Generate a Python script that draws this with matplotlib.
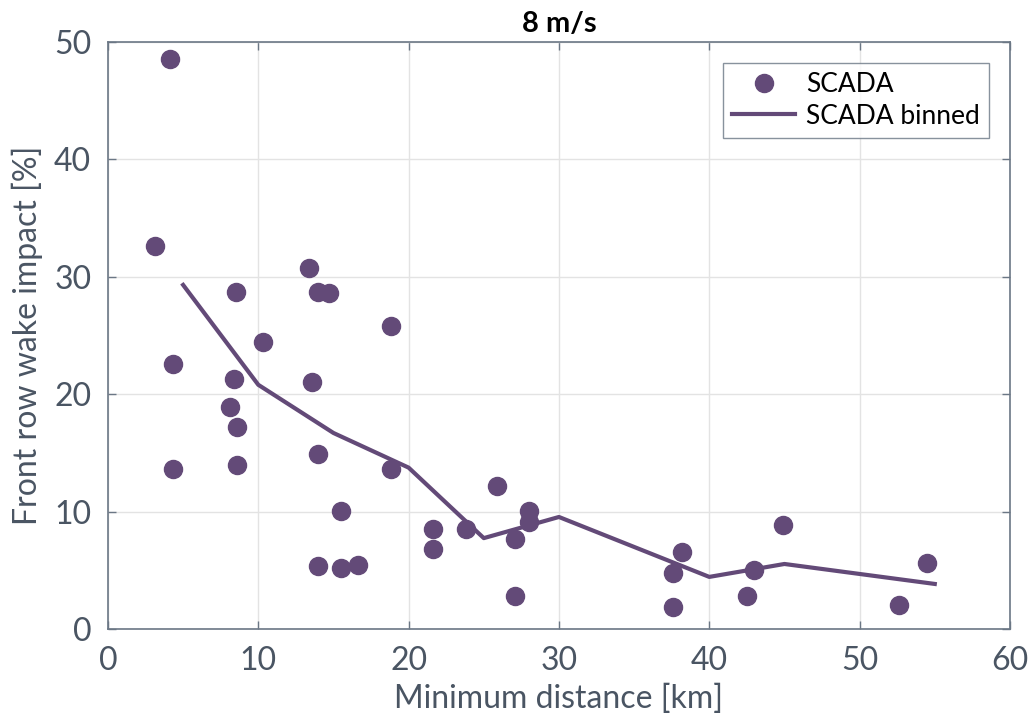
import numpy as np
import matplotlib
matplotlib.use('Agg')
import matplotlib.pyplot as plt

# scatter data (SCADA)
dist = [4.1, 3.1, 4.3, 4.3, 8.5, 8.4, 8.1, 8.6, 8.6, 10.3,
        13.4, 14.0, 14.7, 18.8, 13.6, 14.0, 18.8, 15.5, 14.0, 15.5,
        16.6, 21.6, 21.6, 23.8, 25.9, 28.0, 28.0, 27.1, 27.1,
        38.2, 37.6, 37.6, 43.0, 42.5, 44.9, 52.6, 54.5]
impact = [48.5, 32.6, 22.6, 13.6, 28.7, 21.3, 18.9, 17.2, 14.0, 24.4,
          30.7, 28.7, 28.6, 25.8, 21.0, 14.9, 13.6, 10.1, 5.4, 5.2,
          5.5, 8.5, 6.8, 8.5, 12.2, 10.1, 9.1, 7.7, 2.8,
          6.6, 4.8, 1.9, 5.0, 2.8, 8.9, 2.1, 5.6]

# binned
bin_dist = [5, 10, 15, 20, 25, 30, 40, 45, 55]
bin_impact = [29.3, 20.8, 16.7, 13.75, 7.75, 9.55, 4.45, 5.55, 3.85]

purple = '#634a78'
axcol = '#4a5563'
plt.rcParams['font.family'] = ['Lato', 'DejaVu Sans']

fig = plt.figure(figsize=(10.35, 7.18), dpi=100)
ax = fig.add_axes([0.1043, 0.1237, 0.8715, 0.8182])

ax.plot(dist, impact, 'o', color=purple, markersize=13, label='SCADA', zorder=3)
ax.plot(bin_dist, bin_impact, '-', color=purple, linewidth=3, label='SCADA binned', zorder=2)

ax.set_xlim(0, 60)
ax.set_ylim(0, 50)
ax.set_xticks(range(0, 61, 10))
ax.set_yticks(range(0, 51, 10))
ax.grid(True, color='#e3e3e3', linewidth=1)
ax.set_axisbelow(True)
ax.tick_params(direction='in', top=True, right=True, length=6, width=1,
               color='#6b7785', labelsize=23, labelcolor=axcol, pad=12)
for s in ax.spines.values():
    s.set_color('#6b7785')
    s.set_linewidth(1.2)

ax.set_xlabel('Minimum distance [km]', fontsize=23, color=axcol, labelpad=6)
ax.set_ylabel('Front row wake impact [%]', fontsize=23, color=axcol, labelpad=8)
ax.set_title('8 m/s', fontsize=21, fontweight='bold', color='black', pad=7)

leg = ax.legend(loc='upper right', fontsize=19, frameon=True, fancybox=False,
                edgecolor='#6b7785', borderaxespad=0.8, handlelength=2.4,
                handletextpad=0.4, borderpad=0.35, labelspacing=0.25)
leg.get_frame().set_linewidth(1.0)

fig.savefig('out.png', dpi=100)
